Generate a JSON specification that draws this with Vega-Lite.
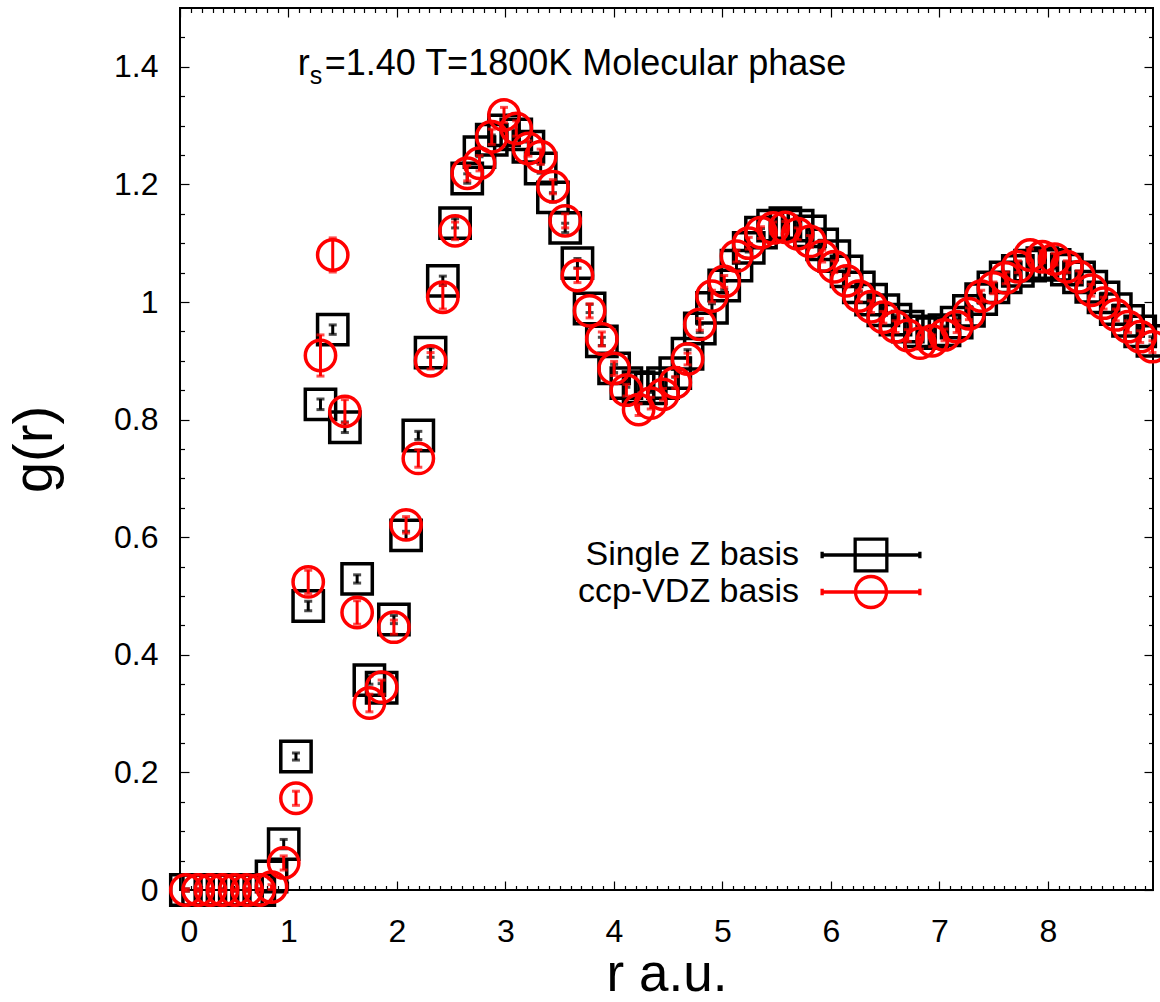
{
  "$schema": "https://vega.github.io/schema/vega-lite/v6.json",
  "width": 973,
  "height": 882,
  "autosize": {"type": "none"},
  "padding": {"left": 180, "top": 8, "right": 7, "bottom": 112},
  "background": "white",
  "config": {
    "view": {"stroke": "black", "strokeWidth": 2},
    "font": "Liberation Sans",
    "axis": {
      "domain": false,
      "grid": false,
      "tickColor": "black",
      "tickWidth": 1.2,
      "labelColor": "black",
      "labelFont": "Liberation Sans",
      "titleFont": "Liberation Sans",
      "titleColor": "black",
      "titleFontWeight": "normal"
    },
    "legend": {
      "orient": "none",
      "title": null,
      "padding": 0,
      "symbolSize": 1136,
      "symbolStrokeWidth": 3.3,
      "rowPadding": 0,
      "labelFont": "Liberation Sans",
      "labelFontSize": 34,
      "labelColor": "black",
      "labelAlign": "right",
      "labelOffset": -91,
      "labelLimit": 0
    }
  },
  "datasets": {
    "sz": [
      {"r": 0.054, "g": 0.0, "err": 0.002, "basis": "Single Z basis"},
      {"r": 0.167, "g": 0.0, "err": 0.002, "basis": "Single Z basis"},
      {"r": 0.280, "g": 0.0, "err": 0.002, "basis": "Single Z basis"},
      {"r": 0.392, "g": 0.0, "err": 0.002, "basis": "Single Z basis"},
      {"r": 0.505, "g": 0.0, "err": 0.002, "basis": "Single Z basis"},
      {"r": 0.618, "g": 0.0, "err": 0.002, "basis": "Single Z basis"},
      {"r": 0.731, "g": 0.0, "err": 0.002, "basis": "Single Z basis"},
      {"r": 0.844, "g": 0.023, "err": 0.004, "basis": "Single Z basis"},
      {"r": 0.956, "g": 0.078, "err": 0.008, "basis": "Single Z basis"},
      {"r": 1.069, "g": 0.227, "err": 0.006, "basis": "Single Z basis"},
      {"r": 1.182, "g": 0.483, "err": 0.008, "basis": "Single Z basis"},
      {"r": 1.295, "g": 0.826, "err": 0.009, "basis": "Single Z basis"},
      {"r": 1.408, "g": 0.953, "err": 0.008, "basis": "Single Z basis"},
      {"r": 1.520, "g": 0.787, "err": 0.009, "basis": "Single Z basis"},
      {"r": 1.633, "g": 0.529, "err": 0.007, "basis": "Single Z basis"},
      {"r": 1.746, "g": 0.357, "err": 0.007, "basis": "Single Z basis"},
      {"r": 1.859, "g": 0.344, "err": 0.007, "basis": "Single Z basis"},
      {"r": 1.972, "g": 0.460, "err": 0.007, "basis": "Single Z basis"},
      {"r": 2.084, "g": 0.603, "err": 0.007, "basis": "Single Z basis"},
      {"r": 2.197, "g": 0.773, "err": 0.007, "basis": "Single Z basis"},
      {"r": 2.310, "g": 0.914, "err": 0.008, "basis": "Single Z basis"},
      {"r": 2.423, "g": 1.036, "err": 0.008, "basis": "Single Z basis"},
      {"r": 2.536, "g": 1.134, "err": 0.008, "basis": "Single Z basis"},
      {"r": 2.648, "g": 1.210, "err": 0.008, "basis": "Single Z basis"},
      {"r": 2.761, "g": 1.255, "err": 0.008, "basis": "Single Z basis"},
      {"r": 2.874, "g": 1.276, "err": 0.008, "basis": "Single Z basis"},
      {"r": 2.987, "g": 1.292, "err": 0.008, "basis": "Single Z basis"},
      {"r": 3.100, "g": 1.285, "err": 0.008, "basis": "Single Z basis"},
      {"r": 3.212, "g": 1.264, "err": 0.008, "basis": "Single Z basis"},
      {"r": 3.325, "g": 1.227, "err": 0.008, "basis": "Single Z basis"},
      {"r": 3.438, "g": 1.178, "err": 0.008, "basis": "Single Z basis"},
      {"r": 3.551, "g": 1.126, "err": 0.008, "basis": "Single Z basis"},
      {"r": 3.664, "g": 1.066, "err": 0.008, "basis": "Single Z basis"},
      {"r": 3.776, "g": 0.989, "err": 0.007, "basis": "Single Z basis"},
      {"r": 3.889, "g": 0.933, "err": 0.007, "basis": "Single Z basis"},
      {"r": 4.002, "g": 0.887, "err": 0.007, "basis": "Single Z basis"},
      {"r": 4.115, "g": 0.862, "err": 0.007, "basis": "Single Z basis"},
      {"r": 4.228, "g": 0.855, "err": 0.007, "basis": "Single Z basis"},
      {"r": 4.340, "g": 0.853, "err": 0.007, "basis": "Single Z basis"},
      {"r": 4.453, "g": 0.862, "err": 0.007, "basis": "Single Z basis"},
      {"r": 4.566, "g": 0.879, "err": 0.007, "basis": "Single Z basis"},
      {"r": 4.679, "g": 0.912, "err": 0.007, "basis": "Single Z basis"},
      {"r": 4.792, "g": 0.955, "err": 0.007, "basis": "Single Z basis"},
      {"r": 4.904, "g": 0.990, "err": 0.007, "basis": "Single Z basis"},
      {"r": 5.017, "g": 1.028, "err": 0.007, "basis": "Single Z basis"},
      {"r": 5.130, "g": 1.062, "err": 0.007, "basis": "Single Z basis"},
      {"r": 5.243, "g": 1.092, "err": 0.007, "basis": "Single Z basis"},
      {"r": 5.356, "g": 1.118, "err": 0.007, "basis": "Single Z basis"},
      {"r": 5.468, "g": 1.130, "err": 0.007, "basis": "Single Z basis"},
      {"r": 5.581, "g": 1.134, "err": 0.007, "basis": "Single Z basis"},
      {"r": 5.694, "g": 1.130, "err": 0.007, "basis": "Single Z basis"},
      {"r": 5.807, "g": 1.120, "err": 0.007, "basis": "Single Z basis"},
      {"r": 5.920, "g": 1.098, "err": 0.007, "basis": "Single Z basis"},
      {"r": 6.032, "g": 1.078, "err": 0.007, "basis": "Single Z basis"},
      {"r": 6.145, "g": 1.052, "err": 0.007, "basis": "Single Z basis"},
      {"r": 6.258, "g": 1.025, "err": 0.007, "basis": "Single Z basis"},
      {"r": 6.371, "g": 1.004, "err": 0.007, "basis": "Single Z basis"},
      {"r": 6.484, "g": 0.986, "err": 0.007, "basis": "Single Z basis"},
      {"r": 6.596, "g": 0.970, "err": 0.007, "basis": "Single Z basis"},
      {"r": 6.709, "g": 0.958, "err": 0.007, "basis": "Single Z basis"},
      {"r": 6.822, "g": 0.950, "err": 0.007, "basis": "Single Z basis"},
      {"r": 6.935, "g": 0.947, "err": 0.007, "basis": "Single Z basis"},
      {"r": 7.048, "g": 0.952, "err": 0.007, "basis": "Single Z basis"},
      {"r": 7.160, "g": 0.965, "err": 0.007, "basis": "Single Z basis"},
      {"r": 7.273, "g": 0.985, "err": 0.007, "basis": "Single Z basis"},
      {"r": 7.386, "g": 1.005, "err": 0.007, "basis": "Single Z basis"},
      {"r": 7.499, "g": 1.025, "err": 0.007, "basis": "Single Z basis"},
      {"r": 7.612, "g": 1.042, "err": 0.007, "basis": "Single Z basis"},
      {"r": 7.724, "g": 1.053, "err": 0.007, "basis": "Single Z basis"},
      {"r": 7.837, "g": 1.062, "err": 0.007, "basis": "Single Z basis"},
      {"r": 7.950, "g": 1.066, "err": 0.007, "basis": "Single Z basis"},
      {"r": 8.063, "g": 1.063, "err": 0.007, "basis": "Single Z basis"},
      {"r": 8.176, "g": 1.055, "err": 0.007, "basis": "Single Z basis"},
      {"r": 8.288, "g": 1.042, "err": 0.007, "basis": "Single Z basis"},
      {"r": 8.401, "g": 1.026, "err": 0.007, "basis": "Single Z basis"},
      {"r": 8.514, "g": 1.008, "err": 0.007, "basis": "Single Z basis"},
      {"r": 8.627, "g": 0.988, "err": 0.007, "basis": "Single Z basis"},
      {"r": 8.740, "g": 0.968, "err": 0.007, "basis": "Single Z basis"},
      {"r": 8.852, "g": 0.950, "err": 0.007, "basis": "Single Z basis"},
      {"r": 8.965, "g": 0.934, "err": 0.007, "basis": "Single Z basis"}
    ],
    "vdz": [
      {"r": 0.054, "g": 0.0, "err": 0.002, "basis": "ccp-VDZ basis"},
      {"r": 0.167, "g": 0.0, "err": 0.002, "basis": "ccp-VDZ basis"},
      {"r": 0.280, "g": 0.0, "err": 0.002, "basis": "ccp-VDZ basis"},
      {"r": 0.392, "g": 0.0, "err": 0.002, "basis": "ccp-VDZ basis"},
      {"r": 0.505, "g": 0.0, "err": 0.002, "basis": "ccp-VDZ basis"},
      {"r": 0.618, "g": 0.0, "err": 0.002, "basis": "ccp-VDZ basis"},
      {"r": 0.731, "g": 0.0, "err": 0.002, "basis": "ccp-VDZ basis"},
      {"r": 0.844, "g": 0.005, "err": 0.004, "basis": "ccp-VDZ basis"},
      {"r": 0.956, "g": 0.046, "err": 0.012, "basis": "ccp-VDZ basis"},
      {"r": 1.069, "g": 0.156, "err": 0.012, "basis": "ccp-VDZ basis"},
      {"r": 1.182, "g": 0.524, "err": 0.02, "basis": "ccp-VDZ basis"},
      {"r": 1.295, "g": 0.909, "err": 0.035, "basis": "ccp-VDZ basis"},
      {"r": 1.408, "g": 1.080, "err": 0.029, "basis": "ccp-VDZ basis"},
      {"r": 1.520, "g": 0.814, "err": 0.02, "basis": "ccp-VDZ basis"},
      {"r": 1.633, "g": 0.472, "err": 0.02, "basis": "ccp-VDZ basis"},
      {"r": 1.746, "g": 0.318, "err": 0.015, "basis": "ccp-VDZ basis"},
      {"r": 1.859, "g": 0.345, "err": 0.012, "basis": "ccp-VDZ basis"},
      {"r": 1.972, "g": 0.447, "err": 0.012, "basis": "ccp-VDZ basis"},
      {"r": 2.084, "g": 0.621, "err": 0.014, "basis": "ccp-VDZ basis"},
      {"r": 2.197, "g": 0.734, "err": 0.015, "basis": "ccp-VDZ basis"},
      {"r": 2.310, "g": 0.900, "err": 0.014, "basis": "ccp-VDZ basis"},
      {"r": 2.423, "g": 1.008, "err": 0.02, "basis": "ccp-VDZ basis"},
      {"r": 2.536, "g": 1.121, "err": 0.015, "basis": "ccp-VDZ basis"},
      {"r": 2.648, "g": 1.219, "err": 0.013, "basis": "ccp-VDZ basis"},
      {"r": 2.761, "g": 1.236, "err": 0.013, "basis": "ccp-VDZ basis"},
      {"r": 2.874, "g": 1.281, "err": 0.013, "basis": "ccp-VDZ basis"},
      {"r": 2.987, "g": 1.318, "err": 0.013, "basis": "ccp-VDZ basis"},
      {"r": 3.100, "g": 1.295, "err": 0.013, "basis": "ccp-VDZ basis"},
      {"r": 3.212, "g": 1.261, "err": 0.013, "basis": "ccp-VDZ basis"},
      {"r": 3.325, "g": 1.247, "err": 0.013, "basis": "ccp-VDZ basis"},
      {"r": 3.438, "g": 1.196, "err": 0.012, "basis": "ccp-VDZ basis"},
      {"r": 3.551, "g": 1.138, "err": 0.012, "basis": "ccp-VDZ basis"},
      {"r": 3.664, "g": 1.045, "err": 0.012, "basis": "ccp-VDZ basis"},
      {"r": 3.776, "g": 0.985, "err": 0.012, "basis": "ccp-VDZ basis"},
      {"r": 3.889, "g": 0.937, "err": 0.012, "basis": "ccp-VDZ basis"},
      {"r": 4.002, "g": 0.887, "err": 0.012, "basis": "ccp-VDZ basis"},
      {"r": 4.115, "g": 0.850, "err": 0.01, "basis": "ccp-VDZ basis"},
      {"r": 4.228, "g": 0.817, "err": 0.01, "basis": "ccp-VDZ basis"},
      {"r": 4.340, "g": 0.828, "err": 0.01, "basis": "ccp-VDZ basis"},
      {"r": 4.453, "g": 0.843, "err": 0.01, "basis": "ccp-VDZ basis"},
      {"r": 4.566, "g": 0.863, "err": 0.01, "basis": "ccp-VDZ basis"},
      {"r": 4.679, "g": 0.903, "err": 0.01, "basis": "ccp-VDZ basis"},
      {"r": 4.792, "g": 0.962, "err": 0.01, "basis": "ccp-VDZ basis"},
      {"r": 4.904, "g": 1.010, "err": 0.01, "basis": "ccp-VDZ basis"},
      {"r": 5.017, "g": 1.035, "err": 0.01, "basis": "ccp-VDZ basis"},
      {"r": 5.130, "g": 1.078, "err": 0.01, "basis": "ccp-VDZ basis"},
      {"r": 5.243, "g": 1.100, "err": 0.01, "basis": "ccp-VDZ basis"},
      {"r": 5.356, "g": 1.118, "err": 0.01, "basis": "ccp-VDZ basis"},
      {"r": 5.468, "g": 1.126, "err": 0.01, "basis": "ccp-VDZ basis"},
      {"r": 5.581, "g": 1.127, "err": 0.01, "basis": "ccp-VDZ basis"},
      {"r": 5.694, "g": 1.116, "err": 0.01, "basis": "ccp-VDZ basis"},
      {"r": 5.807, "g": 1.103, "err": 0.01, "basis": "ccp-VDZ basis"},
      {"r": 5.920, "g": 1.078, "err": 0.01, "basis": "ccp-VDZ basis"},
      {"r": 6.032, "g": 1.060, "err": 0.01, "basis": "ccp-VDZ basis"},
      {"r": 6.145, "g": 1.036, "err": 0.01, "basis": "ccp-VDZ basis"},
      {"r": 6.258, "g": 1.010, "err": 0.01, "basis": "ccp-VDZ basis"},
      {"r": 6.371, "g": 0.992, "err": 0.01, "basis": "ccp-VDZ basis"},
      {"r": 6.484, "g": 0.974, "err": 0.01, "basis": "ccp-VDZ basis"},
      {"r": 6.596, "g": 0.958, "err": 0.01, "basis": "ccp-VDZ basis"},
      {"r": 6.709, "g": 0.943, "err": 0.01, "basis": "ccp-VDZ basis"},
      {"r": 6.822, "g": 0.930, "err": 0.01, "basis": "ccp-VDZ basis"},
      {"r": 6.935, "g": 0.934, "err": 0.01, "basis": "ccp-VDZ basis"},
      {"r": 7.048, "g": 0.944, "err": 0.01, "basis": "ccp-VDZ basis"},
      {"r": 7.160, "g": 0.958, "err": 0.01, "basis": "ccp-VDZ basis"},
      {"r": 7.273, "g": 0.980, "err": 0.01, "basis": "ccp-VDZ basis"},
      {"r": 7.386, "g": 1.010, "err": 0.01, "basis": "ccp-VDZ basis"},
      {"r": 7.499, "g": 1.024, "err": 0.01, "basis": "ccp-VDZ basis"},
      {"r": 7.612, "g": 1.041, "err": 0.01, "basis": "ccp-VDZ basis"},
      {"r": 7.724, "g": 1.060, "err": 0.01, "basis": "ccp-VDZ basis"},
      {"r": 7.837, "g": 1.080, "err": 0.01, "basis": "ccp-VDZ basis"},
      {"r": 7.950, "g": 1.077, "err": 0.01, "basis": "ccp-VDZ basis"},
      {"r": 8.063, "g": 1.073, "err": 0.01, "basis": "ccp-VDZ basis"},
      {"r": 8.176, "g": 1.060, "err": 0.01, "basis": "ccp-VDZ basis"},
      {"r": 8.288, "g": 1.043, "err": 0.01, "basis": "ccp-VDZ basis"},
      {"r": 8.401, "g": 1.020, "err": 0.01, "basis": "ccp-VDZ basis"},
      {"r": 8.514, "g": 0.998, "err": 0.01, "basis": "ccp-VDZ basis"},
      {"r": 8.627, "g": 0.978, "err": 0.01, "basis": "ccp-VDZ basis"},
      {"r": 8.740, "g": 0.958, "err": 0.01, "basis": "ccp-VDZ basis"},
      {"r": 8.852, "g": 0.941, "err": 0.01, "basis": "ccp-VDZ basis"},
      {"r": 8.965, "g": 0.924, "err": 0.01, "basis": "ccp-VDZ basis"}
    ],
    "note": [
      {"r": 1.085, "g": 1.386, "sym": "r", "sub": "s", "rest": "=1.40 T=1800K Molecular phase"}
    ]
  },
  "resolve": {"axis": {"x": "independent", "y": "independent"}},
  "layer": [
    {
      "data": {"name": "sz"},
      "mark": {"type": "point", "shape": "square", "filled": false, "size": 920, "strokeWidth": 3.5, "opacity": 1},
      "encoding": {
        "x": {
          "field": "r", "type": "quantitative",
          "scale": {"domain": [0, 8.97], "nice": false, "zero": false},
          "axis": {"orient": "bottom", "values": [0, 1, 2, 3, 4, 5, 6, 7, 8], "format": "d", "tickSize": -9,
                   "labelFontSize": 32, "labelPadding": 35, "title": "r a.u.", "titleFontSize": 53, "titlePadding": 1}
        },
        "y": {
          "field": "g", "type": "quantitative",
          "scale": {"domain": [0, 1.5], "nice": false, "zero": false},
          "axis": {"orient": "left", "values": [0, 0.2, 0.4, 0.6, 0.8, 1, 1.2, 1.4], "format": "~g", "tickSize": -9,
                   "labelFontSize": 32, "labelPadding": 31, "title": "g(r)", "titleFontSize": 56, "titlePadding": 50}
        },
        "color": {
          "field": "basis", "type": "nominal",
          "scale": {"domain": ["Single Z basis"], "range": ["#000000"]},
          "legend": {
            "legendX": 672, "legendY": 528,
            "symbolType": "M-2.9,0H2.9M-0.94,-0.94H0.94V0.94H-0.94ZM-2.9,-0.2V0.2M2.9,-0.2V0.2"
          }
        }
      }
    },
    {
      "data": {"name": "sz"},
      "mark": {"type": "errorbar", "thickness": 3, "rule": {"color": "black"}, "ticks": {"size": 8, "thickness": 3, "color": "black"}},
      "encoding": {
        "x": {"field": "r", "type": "quantitative", "axis": null},
        "y": {"field": "g", "type": "quantitative", "axis": null},
        "yError": {"field": "err"}
      }
    },
    {
      "data": {"name": "vdz"},
      "mark": {"type": "point", "shape": "circle", "filled": false, "size": 920, "strokeWidth": 3.5, "opacity": 1},
      "encoding": {
        "x": {
          "field": "r", "type": "quantitative",
          "axis": {"orient": "bottom", "values": [0.1, 0.2, 0.3, 0.4, 0.5, 0.6, 0.7, 0.8, 0.9, 1.1, 1.2, 1.3, 1.4, 1.5, 1.6, 1.7, 1.8, 1.9, 2.1, 2.2, 2.3, 2.4, 2.5, 2.6, 2.7, 2.8, 2.9, 3.1, 3.2, 3.3, 3.4, 3.5, 3.6, 3.7, 3.8, 3.9, 4.1, 4.2, 4.3, 4.4, 4.5, 4.6, 4.7, 4.8, 4.9, 5.1, 5.2, 5.3, 5.4, 5.5, 5.6, 5.7, 5.8, 5.9, 6.1, 6.2, 6.3, 6.4, 6.5, 6.6, 6.7, 6.8, 6.9, 7.1, 7.2, 7.3, 7.4, 7.5, 7.6, 7.7, 7.8, 7.9, 8.1, 8.2, 8.3, 8.4, 8.5, 8.6, 8.7, 8.8, 8.9],
                   "tickSize": -4.5, "labels": false, "title": null}
        },
        "y": {
          "field": "g", "type": "quantitative",
          "axis": {"orient": "left", "values": [0.05, 0.1, 0.15, 0.25, 0.3, 0.35, 0.45, 0.5, 0.55, 0.65, 0.7, 0.75, 0.85, 0.9, 0.95, 1.05, 1.1, 1.15, 1.25, 1.3, 1.35, 1.45],
                   "tickSize": -4.5, "labels": false, "title": null}
        },
        "stroke": {
          "field": "basis", "type": "nominal",
          "scale": {"domain": ["ccp-VDZ basis"], "range": ["#ff0000"]},
          "legend": {
            "legendX": 672, "legendY": 565,
            "symbolType": "M-2.9,0H2.9M-0.92,0A0.92,0.92,0,1,1,0.92,0A0.92,0.92,0,1,1,-0.92,0ZM-2.9,-0.2V0.2M2.9,-0.2V0.2"
          }
        }
      }
    },
    {
      "data": {"name": "vdz"},
      "mark": {"type": "errorbar", "thickness": 3, "rule": {"color": "#ff0000"}, "ticks": {"size": 8, "thickness": 3, "color": "#ff0000"}},
      "encoding": {
        "x": {"field": "r", "type": "quantitative", "axis": null},
        "y": {"field": "g", "type": "quantitative", "axis": null},
        "yError": {"field": "err"}
      }
    },
    {
      "data": {"name": "note"},
      "mark": {"type": "text", "align": "left", "baseline": "alphabetic", "fontSize": 36, "color": "black"},
      "encoding": {
        "x": {"field": "r", "type": "quantitative",
              "axis": {"orient": "top", "values": [0, 1, 2, 3, 4, 5, 6, 7, 8], "tickSize": -9, "labels": false, "title": null}},
        "y": {"field": "g", "type": "quantitative",
              "axis": {"orient": "right", "values": [0, 0.2, 0.4, 0.6, 0.8, 1, 1.2, 1.4], "tickSize": -9, "labels": false, "title": null}},
        "text": {"field": "sym"}
      }
    },
    {
      "data": {"name": "note"},
      "mark": {"type": "text", "align": "left", "baseline": "alphabetic", "fontSize": 25, "dx": 12, "dy": 9, "color": "black"},
      "encoding": {
        "x": {"field": "r", "type": "quantitative",
              "axis": {"orient": "top", "values": [0.1, 0.2, 0.3, 0.4, 0.5, 0.6, 0.7, 0.8, 0.9, 1.1, 1.2, 1.3, 1.4, 1.5, 1.6, 1.7, 1.8, 1.9, 2.1, 2.2, 2.3, 2.4, 2.5, 2.6, 2.7, 2.8, 2.9, 3.1, 3.2, 3.3, 3.4, 3.5, 3.6, 3.7, 3.8, 3.9, 4.1, 4.2, 4.3, 4.4, 4.5, 4.6, 4.7, 4.8, 4.9, 5.1, 5.2, 5.3, 5.4, 5.5, 5.6, 5.7, 5.8, 5.9, 6.1, 6.2, 6.3, 6.4, 6.5, 6.6, 6.7, 6.8, 6.9, 7.1, 7.2, 7.3, 7.4, 7.5, 7.6, 7.7, 7.8, 7.9, 8.1, 8.2, 8.3, 8.4, 8.5, 8.6, 8.7, 8.8, 8.9],
                       "tickSize": -4.5, "labels": false, "title": null}},
        "y": {"field": "g", "type": "quantitative",
              "axis": {"orient": "right", "values": [0.05, 0.1, 0.15, 0.25, 0.3, 0.35, 0.45, 0.5, 0.55, 0.65, 0.7, 0.75, 0.85, 0.9, 0.95, 1.05, 1.1, 1.15, 1.25, 1.3, 1.35, 1.45],
                       "tickSize": -4.5, "labels": false, "title": null}},
        "text": {"field": "sub"}
      }
    },
    {
      "data": {"name": "note"},
      "mark": {"type": "text", "align": "left", "baseline": "alphabetic", "fontSize": 36, "dx": 27, "color": "black"},
      "encoding": {
        "x": {"field": "r", "type": "quantitative", "axis": null},
        "y": {"field": "g", "type": "quantitative", "axis": null},
        "text": {"field": "rest"}
      }
    }
  ]
}
